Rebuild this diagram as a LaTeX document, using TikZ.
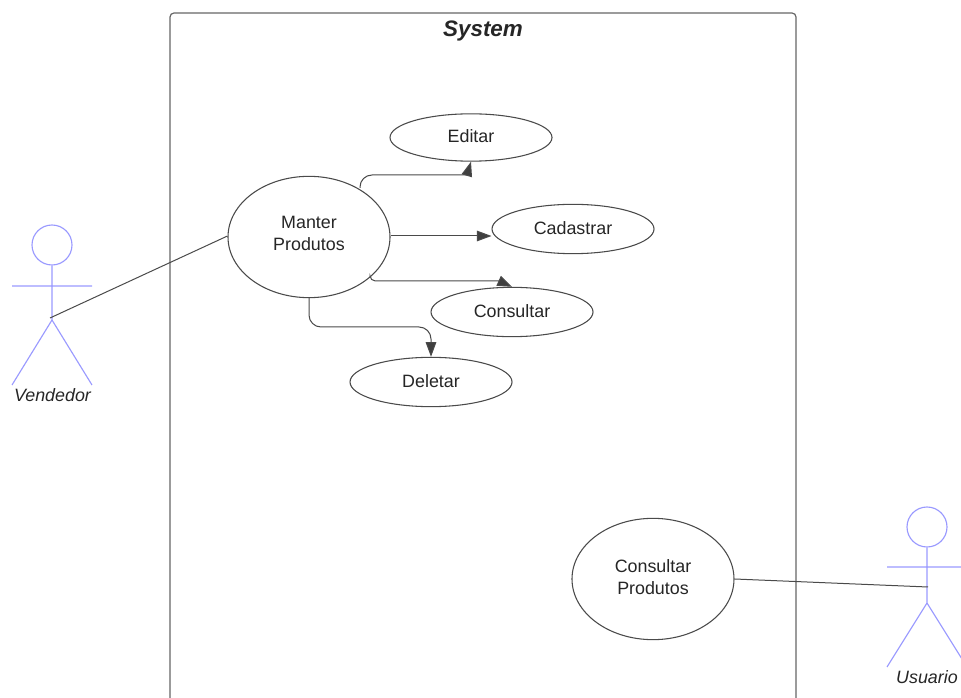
\documentclass[tikz,border=0pt]{standalone}
\usepackage{fontspec}
\setmainfont{Liberation Sans}
\usetikzlibrary{shapes.geometric,arrows.meta,calc}
\definecolor{ln}{HTML}{4A4A4A}
\definecolor{act}{HTML}{9999FF}
\definecolor{txt}{HTML}{262626}
\tikzset{
 x=0.75pt,y=-0.75pt,
 usecase/.style={ellipse,draw=ln,line width=0.8pt,fill=white,inner sep=0pt,text=txt,align=center,font=\fontsize{13.4pt}{16.5pt}\selectfont},
 small/.style={usecase,minimum width=121.5pt,minimum height=37pt,text depth=2pt},
 big/.style={usecase,minimum width=121.5pt,minimum height=91pt,text depth=5pt},
 frame/.style={draw=ln!85,line width=0.9pt,rounded corners=3pt},
 actorline/.style={draw=act,line width=0.85pt},
 assoc/.style={draw=ln,line width=0.75pt},
 conn/.style={draw=ln,line width=0.75pt,rounded corners=9pt},
 tip/.style={-{Triangle[length=11pt,width=8pt,fill=ln!85!black]}},
 label/.style={text=txt,font=\fontsize{13.4pt}{16pt}\selectfont\itshape,inner sep=0pt},
}
\begin{document}
\begin{tikzpicture}
\useasboundingbox (0,0) rectangle (961,698);
\path[frame] (170,720) -- (170,13) -- (796,13) -- (796,720);
\node[text=txt,inner sep=0pt,font=\fontsize{16.8pt}{20pt}\selectfont\bfseries\itshape] (system) at (483,31) {System};

% actors
\node[circle,actorline,minimum size=30pt,inner sep=0pt] (vhead) at (52,245) {};
\coordinate (vhip) at (52,320);
\coordinate (varmL) at (12,286);
\coordinate (varmR) at (92,286);
\coordinate (vlegL) at (12,385);
\coordinate (vlegR) at (92,385);
\path[actorline] (vhead.south) -- (vhip) (varmL) -- (varmR) (vlegL) -- (vhip) -- (vlegR);
\node[label] (vendedor) at (52.5,395) {Vendedor};

\node[circle,actorline,minimum size=30pt,inner sep=0pt] (uhead) at (927,527) {};
\coordinate (uhip) at (927,603);
\coordinate (umid) at (928,587);
\coordinate (uarmL) at (887,567);
\coordinate (uarmR) at (967,567);
\coordinate (ulegL) at (887,667);
\coordinate (ulegR) at (967,667);
\path[actorline] (uhead.south) -- (uhip) (uarmL) -- (uarmR) (ulegL) -- (uhip) -- (ulegR);
\node[label] (usuario) at (927,677) {Usuario};

% use cases
\node[big] (manter) at (309,237) {Manter\\Produtos};
\node[small,minimum height=35.5pt] (editar) at (471,137.5) {Editar};
\node[small] (cadastrar) at (573,229) {Cadastrar};
\node[small] (consultar) at (512,312) {Consultar};
\node[small] (deletar) at (431,382) {Deletar};
\node[big,text depth=2.5pt] (cprod) at (653,579) {Consultar\\Produtos};

% connectors
\coordinate (vmidc) at (50,318);
\coordinate (mstartE) at (360,188);
\coordinate (mstartC) at (370,277);
\draw[assoc] (vmidc) -- (manter.west |- 0,236);
\draw[assoc] (cprod.east) -- (umid);
\draw[conn,tip] (mstartE) |- (420,175) [sharp corners] -- (467,175) -- (editar.south);
\draw[assoc,tip] (manter.east |- 0,236) -- (cadastrar.west |- 0,236);
\draw[conn,rounded corners=4pt,tip] (mstartC) |- (420,281) [sharp corners] -- (499,281) -- (consultar.north);
\draw[conn,tip] (manter.south) |- (431,327) -- (deletar.north);
\end{tikzpicture}
\end{document}
